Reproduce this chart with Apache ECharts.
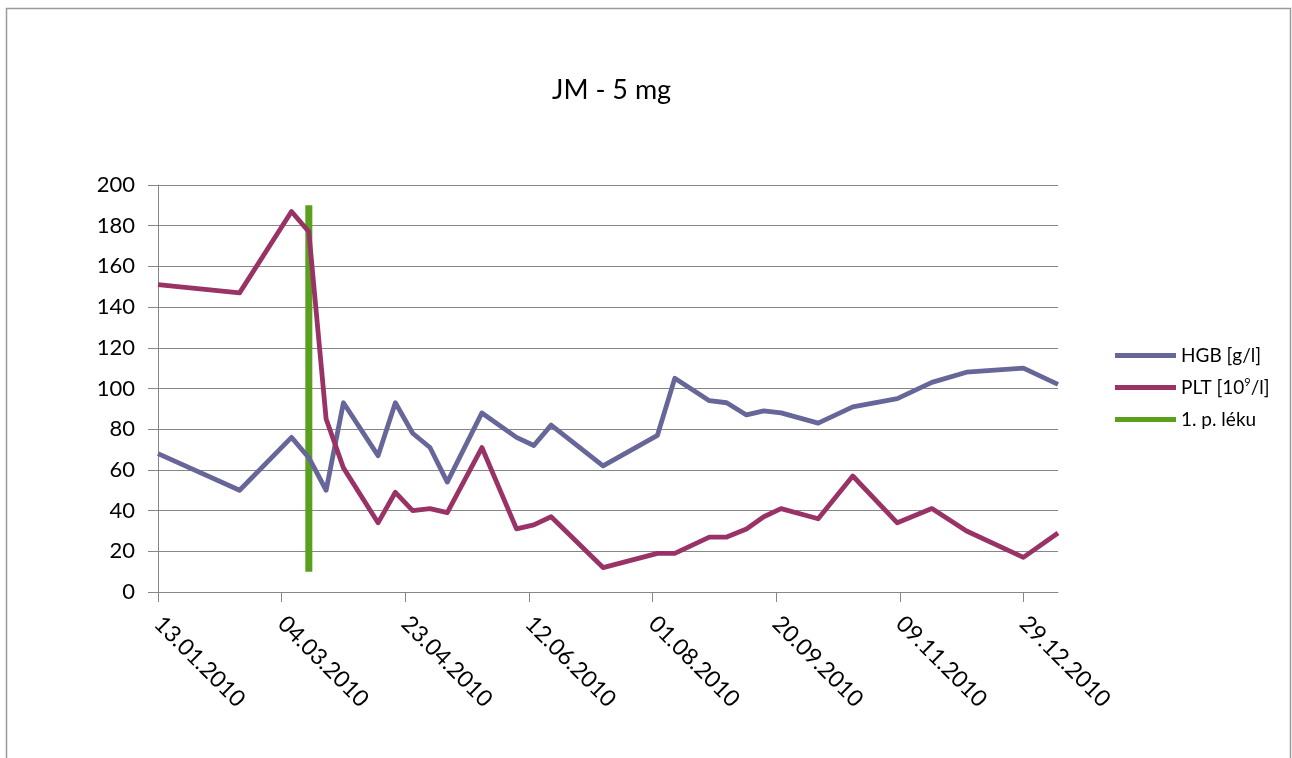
<!DOCTYPE html>
<html>
<head>
<meta charset="utf-8">
<title>JM - 5 mg</title>
<script src="https://cdn.jsdelivr.net/npm/echarts@6/dist/echarts.min.js"></script>
<style>
  html, body { margin: 0; padding: 0; background: #ffffff; }
  #chart { width: 1292px; height: 758px; }
</style>
</head>
<body>
<div id="chart"></div>
<script>
// Measurement dates (dd.mm.yyyy written ISO here)
const dates = [
  '2010-01-13', '2010-02-15', '2010-03-08', '2010-03-15', '2010-03-22',
  '2010-03-29', '2010-04-12', '2010-04-19', '2010-04-26', '2010-05-03',
  '2010-05-10', '2010-05-24', '2010-06-07', '2010-06-14', '2010-06-21',
  '2010-07-12', '2010-08-03', '2010-08-10', '2010-08-24', '2010-08-31',
  '2010-09-08', '2010-09-15', '2010-09-22', '2010-10-07', '2010-10-21',
  '2010-11-08', '2010-11-22', '2010-12-06', '2010-12-29', '2011-01-12'
];
// Hemoglobin [g/l]
const hgb = [68, 50, 76, 66, 50, 93, 67, 93, 78, 71, 54, 88, 76, 72, 82,
             62, 77, 105, 94, 93, 87, 89, 88, 83, 91, 95, 103, 108, 110, 102];
// Platelets [10^9/l]
const plt = [151, 147, 187, 177, 85, 61, 34, 49, 40, 41, 39, 71, 31, 33, 37,
             12, 19, 19, 27, 27, 31, 37, 41, 36, 57, 34, 41, 30, 17, 29];
// First dose of the drug, drawn as a vertical marker
const doseDate = '2010-03-15';
const doseSpan = [10, 190];
// Date axis tick labels
const xTicks = ['13.01.2010', '04.03.2010', '23.04.2010', '12.06.2010',
                '01.08.2010', '20.09.2010', '09.11.2010', '29.12.2010'];
const xEnd = '2011-01-12';
const yTicks = [0, 20, 40, 60, 80, 100, 120, 140, 160, 180, 200];

const seriesNames = ['HGB [g/l]', 'PLT [10⁹/l]', '1. p. léku'];
const colors = ['#666699', '#993366', '#58a01e'];

const DAY = 86400000;
const base = Date.UTC(2010, 0, 13);
function isoToDay(s) {
  const [y, m, d] = s.split('-').map(Number);
  return Math.round((Date.UTC(y, m - 1, d) - base) / DAY);
}
function dmyToDay(s) {
  const [d, m, y] = s.split('.').map(Number);
  return Math.round((Date.UTC(y, m - 1, d) - base) / DAY);
}
function dayToDmy(v) {
  const t = new Date(base + Math.round(v) * DAY);
  const p = n => String(n).padStart(2, '0');
  return p(t.getUTCDate()) + '.' + p(t.getUTCMonth() + 1) + '.' + t.getUTCFullYear();
}

const days = dates.map(isoToDay);
const tickDays = xTicks.map(dmyToDay);
const doseDay = isoToDay(doseDate);

const font = 'Lato, "Noto Sans", sans-serif';
const chart = echarts.init(document.getElementById('chart'), null, { renderer: 'canvas' });

chart.setOption({
  animation: false,
  backgroundColor: '#ffffff',
  color: colors,
  graphic: [{
    type: 'rect',
    shape: { x: 6.5, y: 8.5, width: 1284, height: 760 },
    style: { fill: 'none', stroke: '#9a9a9a', lineWidth: 1.5 },
    silent: true
  }],
  title: {
    text: 'JM - 5 mg',
    left: 547,
    top: 72,
    textStyle: { fontFamily: font, fontSize: 27, fontWeight: 'normal', color: '#000' }
  },
  legend: {
    orient: 'vertical',
    left: 1110,
    top: 340,
    itemWidth: 61,
    itemHeight: 5,
    itemGap: 11,
    icon: 'rect',
    data: seriesNames,
    formatter: name => name.replace('⁹', '{sup|9}'),
    textStyle: {
      fontFamily: font, fontSize: 19, color: '#000', lineHeight: 21,
      rich: { sup: { fontFamily: font, fontSize: 11, verticalAlign: 'top', lineHeight: 11, color: '#000' } }
    }
  },
  grid: { left: 158, right: 234, top: 185, bottom: 166 },
  xAxis: {
    type: 'value',
    min: 0,
    max: isoToDay(xEnd),
    interval: 50,
    axisLine: { show: true, onZero: false, lineStyle: { color: '#868686', width: 1 } },
    axisTick: { show: true, length: 10, customValues: tickDays, lineStyle: { color: '#868686' } },
    splitLine: { show: false },
    axisLabel: {
      customValues: tickDays,
      rotate: -45,
      margin: 28,
      formatter: v => dayToDmy(v),
      fontFamily: font, fontSize: 23, color: '#000'
    }
  },
  yAxis: {
    type: 'value',
    min: yTicks[0],
    max: yTicks[yTicks.length - 1],
    interval: yTicks[1] - yTicks[0],
    axisLine: { show: true, lineStyle: { color: '#868686', width: 1 } },
    axisTick: { show: true, length: 10, lineStyle: { color: '#868686' } },
    splitLine: { show: true, lineStyle: { color: '#868686', width: 1 } },
    axisLabel: { margin: 23, fontFamily: font, fontSize: 22, color: '#000' }
  },
  series: [
    {
      name: seriesNames[0],
      type: 'line',
      data: days.map((d, i) => [d, hgb[i]]),
      showSymbol: false,
      lineStyle: { width: 4.8, color: colors[0], join: 'round' },
      z: 3
    },
    {
      name: seriesNames[1],
      type: 'line',
      data: days.map((d, i) => [d, plt[i]]),
      showSymbol: false,
      lineStyle: { width: 4.8, color: colors[1], join: 'round' },
      z: 4
    },
    {
      name: seriesNames[2],
      type: 'line',
      data: doseSpan.map(v => [doseDay, v]),
      showSymbol: false,
      lineStyle: { width: 7, color: colors[2], cap: 'butt' },
      z: 2
    }
  ]
});
</script>
</body>
</html>
